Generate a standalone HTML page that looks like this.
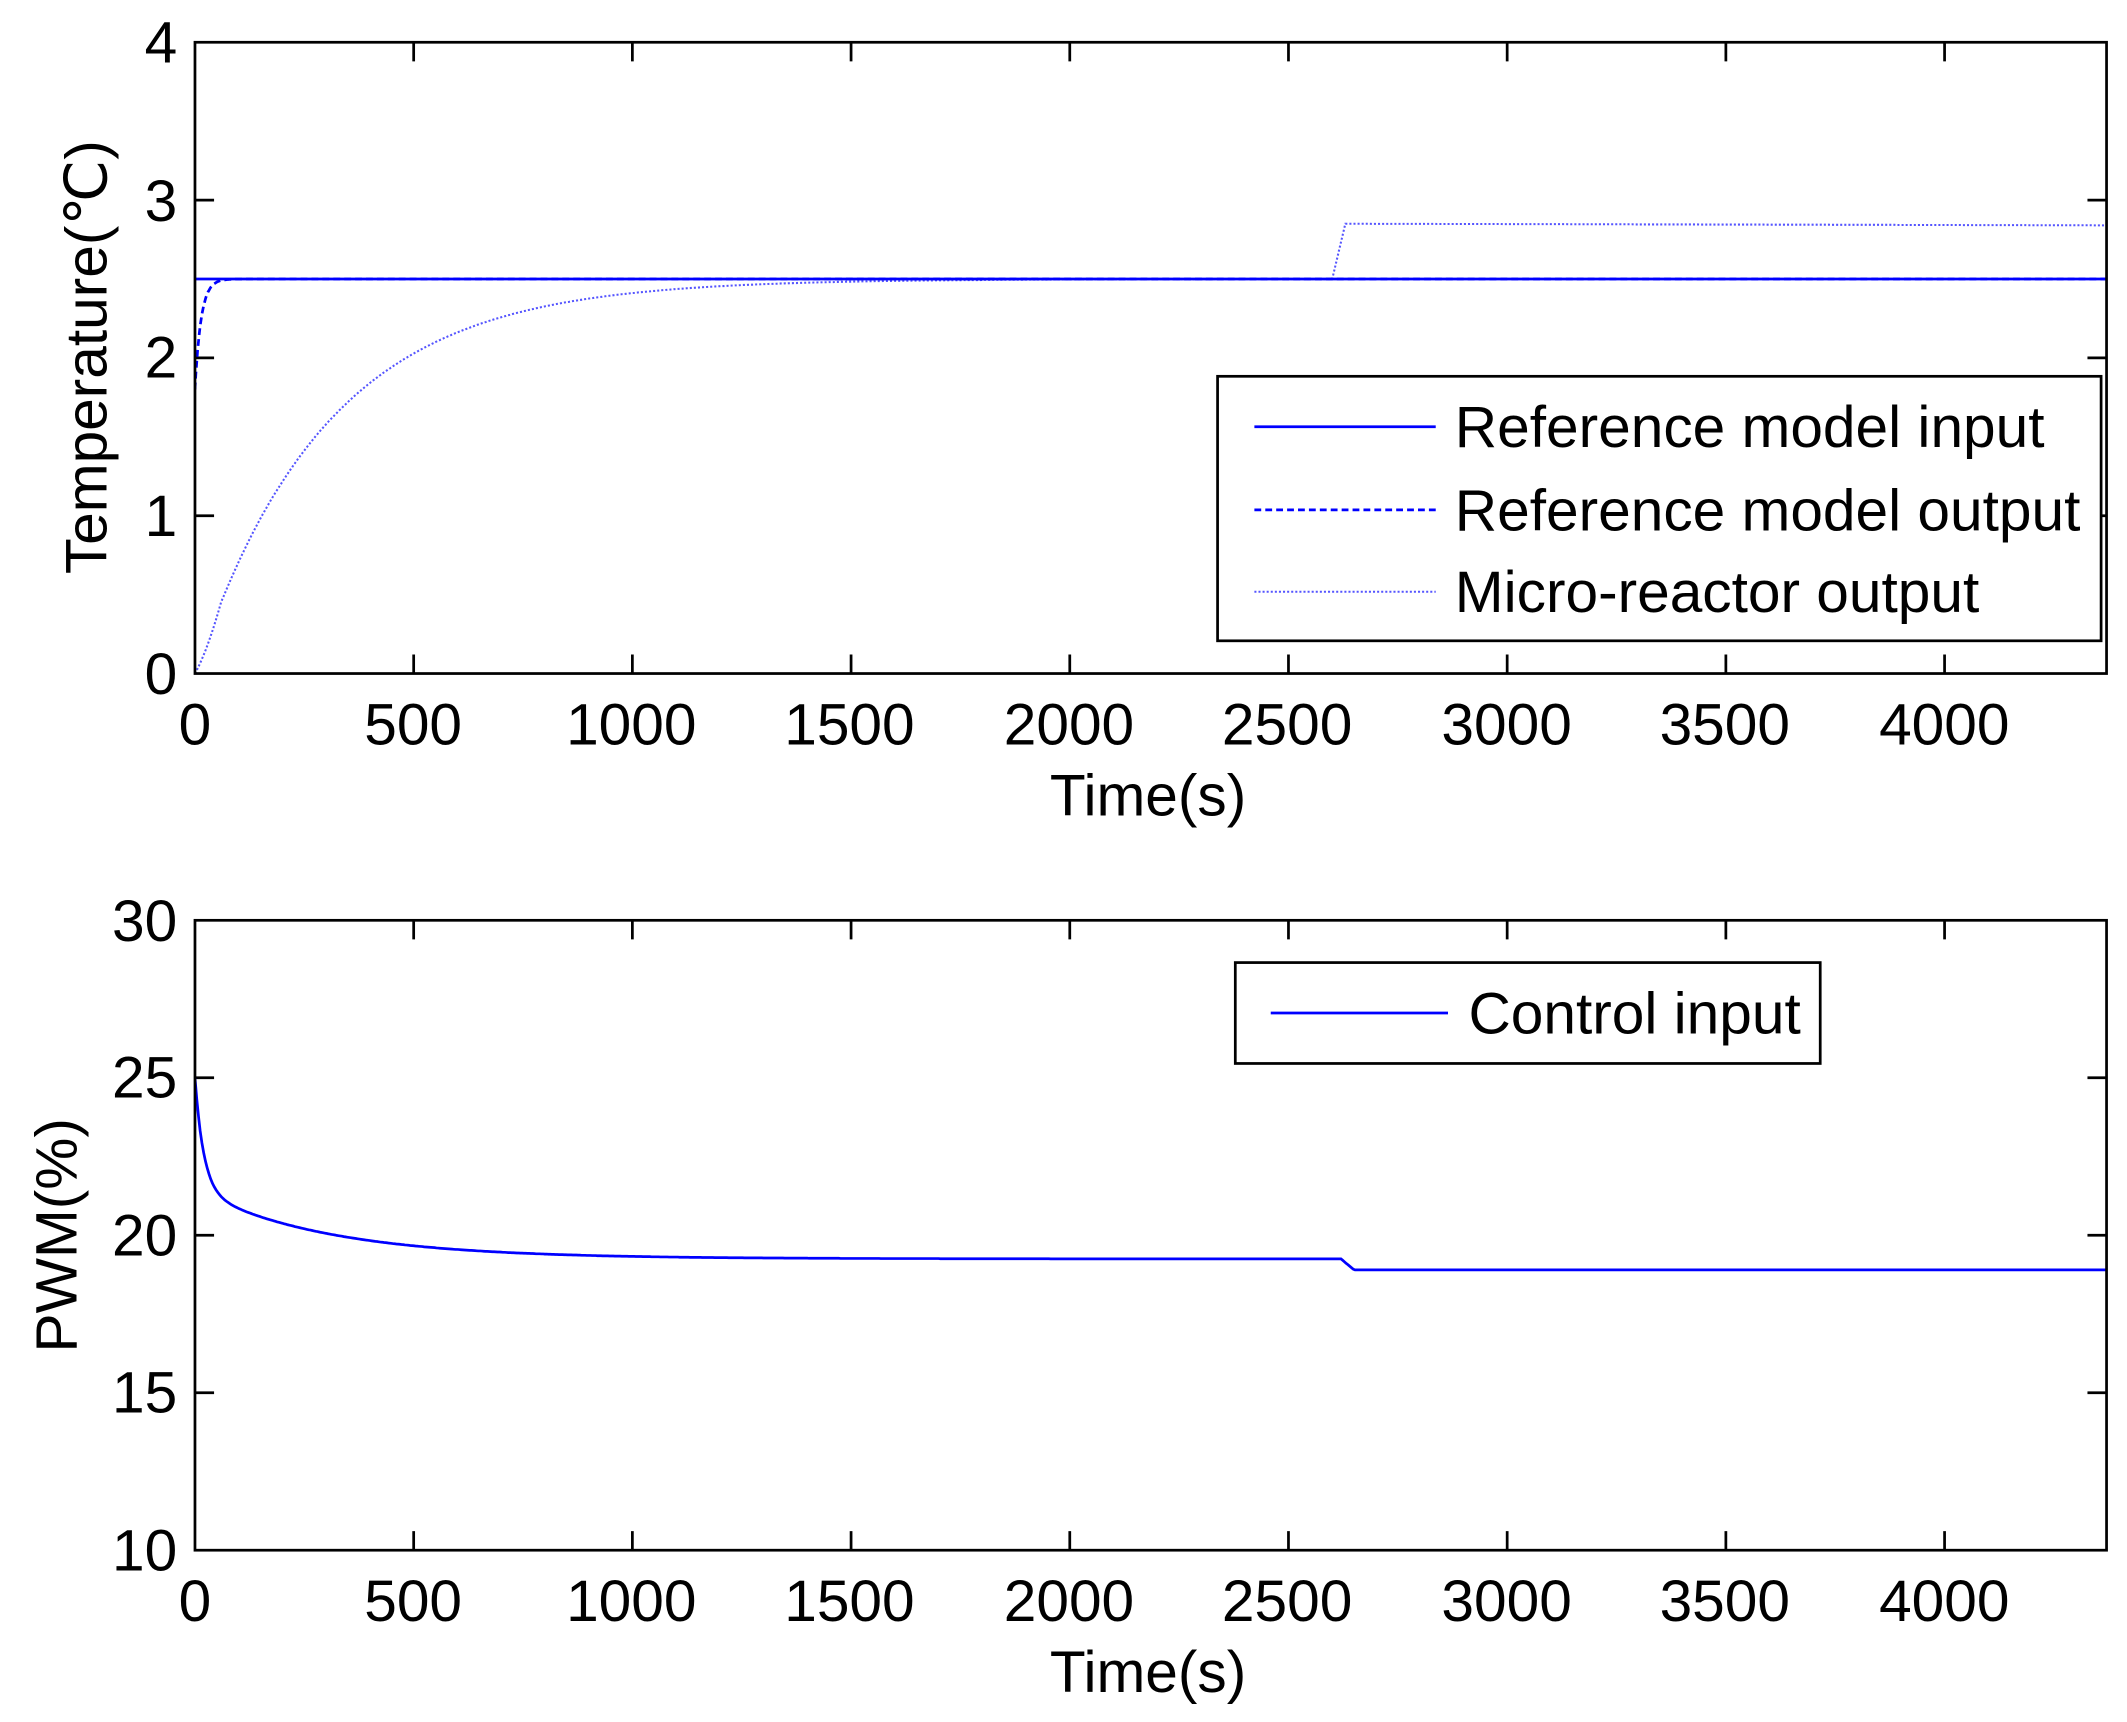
<!DOCTYPE html>
<html><head><meta charset="utf-8"><style>
html,body{margin:0;padding:0;background:#fff;}
svg{display:block;}
text{font-family:"Liberation Sans","DejaVu Sans",sans-serif;fill:#000;}
</style></head><body>
<svg id="s" width="2127" height="1722" viewBox="0 0 1560 1263" preserveAspectRatio="none" xmlns="http://www.w3.org/2000/svg">
<defs><clipPath id="c1"><rect x="143" y="31" width="1402" height="463"/></clipPath><clipPath id="c2"><rect x="143" y="675" width="1402" height="462"/></clipPath></defs>
<rect width="1560" height="1263" fill="#fff"/>
<g id="g"></g>
<rect x="143" y="31" width="1402" height="463" fill="none" stroke="#000" stroke-width="2"/>
<rect x="143" y="675" width="1402" height="462" fill="none" stroke="#000" stroke-width="2"/>
<g font-size="43" text-anchor="middle">
<text x="143" y="546">0</text><text x="303" y="546">500</text><text x="463" y="546">1000</text><text x="623" y="546">1500</text><text x="784" y="546">2000</text><text x="944" y="546">2500</text><text x="1105" y="546">3000</text><text x="1265" y="546">3500</text><text x="1426" y="546">4000</text>
<text x="143" y="1189">0</text><text x="303" y="1189">500</text><text x="463" y="1189">1000</text><text x="623" y="1189">1500</text><text x="784" y="1189">2000</text><text x="944" y="1189">2500</text><text x="1105" y="1189">3000</text><text x="1265" y="1189">3500</text><text x="1426" y="1189">4000</text>
<text x="842" y="598">Time(s)</text>
<text x="842" y="1241">Time(s)</text>
</g>
<g font-size="43" text-anchor="end">
<text x="130" y="509">0</text><text x="130" y="393">1</text><text x="130" y="277">2</text><text x="130" y="162">3</text><text x="130" y="46">4</text>
<text x="130" y="1152">10</text><text x="130" y="1036">15</text><text x="130" y="921">20</text><text x="130" y="805">25</text><text x="130" y="690">30</text>
</g>
<text font-size="43" text-anchor="middle" transform="translate(78,262) rotate(-90)">Temperature(℃)</text>
<text font-size="43" text-anchor="middle" transform="translate(56,906) rotate(-90)">PWM(%)</text>
<rect x="893" y="276" width="648" height="194" fill="#fff" stroke="#000" stroke-width="2"/>
<line x1="920" y1="313" x2="1053" y2="313" stroke="#00f" stroke-width="2"/>
<line x1="920" y1="374" x2="1053" y2="374" stroke="#00f" stroke-width="2" stroke-dasharray="5,3"/>
<line x1="920" y1="434" x2="1053" y2="434" stroke="#55f" stroke-width="1.5" stroke-dasharray="1.5,1.5"/>
<g font-size="43"><text x="1067" y="328">Reference model input</text><text x="1067" y="389">Reference model output</text><text x="1067" y="449">Micro-reactor output</text></g>
<rect x="906" y="706" width="429" height="74" fill="#fff" stroke="#000" stroke-width="2"/>
<line x1="932" y1="743" x2="1062" y2="743" stroke="#00f" stroke-width="2"/>
<text font-size="43" x="1077" y="758">Control input</text>
</svg>
<script>
(function(){
var g=document.getElementById('g');
function X(t){return 143+t*0.3208;}
function Yt(v){return 494-v*115.75;}
function Yb(p){return 1137-(p-10)*23.1;}
var tk='';
[500,1000,1500,2000,2500,3000,3500,4000].forEach(function(t){var x=X(t);
tk+='M'+x+' 494V480M'+x+' 31V45M'+x+' 1137V1123M'+x+' 675V689';});
[1,2,3].forEach(function(v){var y=Yt(v);tk+='M143 '+y+'H157M1545 '+y+'H1531';});
[15,20,25].forEach(function(v){var y=Yb(v);tk+='M143 '+y+'H157M1545 '+y+'H1531';});
var T=4370,d1='',d2='',d3='',d4='';
for(var t=0;t<=T;t+=5){var v;
 if(t<2600){v=2.5*(1-Math.exp(-t/300));if(t<60)v*=0.6+0.4*t/60;}
 else if(t<2630)v=2.5+0.35*(t-2600)/30; else v=2.85-0.01*(t-2630)/1740;
 d1+=(t?'L':'M')+X(t).toFixed(1)+' '+Yt(v).toFixed(1);}
for(var t=0;t<=200;t+=2){var v=2.5-0.7*Math.exp(-t/14);
 d2+=(t?'L':'M')+X(t).toFixed(1)+' '+Yt(v).toFixed(1);}
d2+='L'+X(T)+' '+Yt(2.5);
d3='M'+X(0)+' '+Yt(2.5)+'H'+X(T);
for(var t=0;t<=T;t+=4){var p;
 if(t<2620)p=19.25+2.2*Math.exp(-t/300)+3.55*Math.exp(-t/20);
 else if(t<2650)p=19.25-0.35*(t-2620)/30; else p=18.9;
 d4+=(t?'L':'M')+X(t).toFixed(1)+' '+Yb(p).toFixed(1);}
g.innerHTML='<path d="'+tk+'" stroke="#000" stroke-width="2" fill="none"/>'+
'<g clip-path="url(#c1)"><path d="'+d1+'" stroke="#55f" stroke-width="1.5" stroke-dasharray="1.5,1.5" fill="none"/>'+
'<path d="'+d3+'" stroke="#00f" stroke-width="2" fill="none"/>'+
'<path d="'+d2+'" stroke="#00f" stroke-width="2" stroke-dasharray="5,3" fill="none"/></g>'+
'<g clip-path="url(#c2)"><path d="'+d4+'" stroke="#00f" stroke-width="2" fill="none"/></g>';
})();
</script>
</body></html>
